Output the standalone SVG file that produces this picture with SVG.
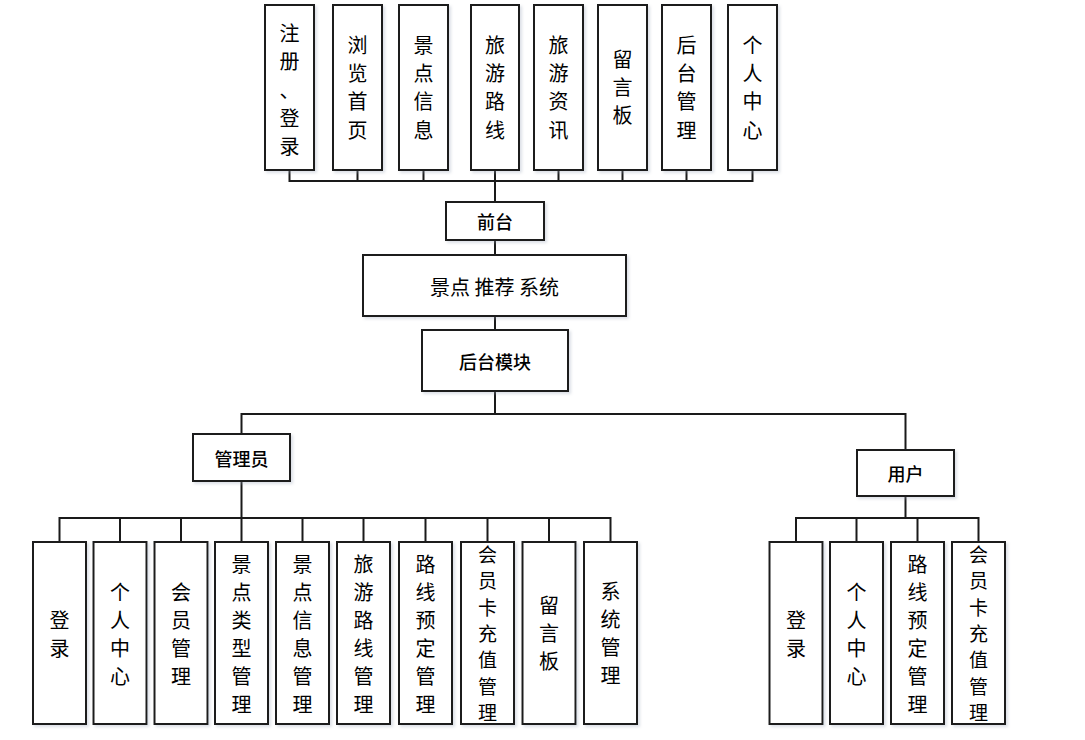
<svg xmlns="http://www.w3.org/2000/svg" width="1085" height="740" viewBox="0 0 1085 740">
<style>
.box{fill:#fff;stroke:#1a1a1a;stroke-width:2;filter:url(#sh)}
.ln{fill:none;stroke:#1a1a1a;stroke-width:2;stroke-linecap:square}
.t{font-family:"Noto Sans CJK SC","Liberation Sans",sans-serif;font-size:20px;fill:#000;text-anchor:middle;dominant-baseline:central}
.t7{font-size:19px}
.tb{font-family:"Noto Sans CJK SC","Liberation Sans",sans-serif;font-size:18px;font-weight:500;fill:#000;text-anchor:middle;dominant-baseline:central}
</style>
<defs>
<filter id="sh" x="-10%" y="-10%" width="130%" height="130%">
<feDropShadow dx="2" dy="2" stdDeviation="1.5" flood-color="#9aa6b8" flood-opacity="0.35"/>
</filter>
</defs>
<rect width="1085" height="740" fill="#fff"/>

<g id="connectors">
<path class="ln" d="M289.5,170V181M357.5,170V181M423.5,170V181M495,170V181M558.5,170V181M622.5,170V181M686.5,170V181M752.5,170V181M289.5,181H752.5M495,181V202"/>
<path class="ln" d="M495,240V255M495,316V330M495,391V414M241.5,414H905.5M241.5,414V434M905.5,414V450"/>
<path class="ln" d="M241.5,481V518M59.5,518H610.5M59.5,518V542M120,518V542M181,518V542M241.5,518V542M302.5,518V542M363.5,518V542M425.5,518V542M487.5,518V542M549,518V542M610.5,518V542"/>
<path class="ln" d="M905.5,496V518M796,518H978.5M796,518V542M856.5,518V542M917.5,518V542M978.5,518V542"/>
</g>

<g id="top1"><rect class="box" x="265" y="5" width="49" height="165"/>
<text class="t"><tspan x="289.5" y="32">注</tspan><tspan x="289.5" y="60.3">册</tspan><tspan x="289.5" y="88.6">、</tspan><tspan x="289.5" y="117">登</tspan><tspan x="289.5" y="145.2">录</tspan></text></g>
<g id="top2"><rect class="box" x="333" y="5" width="49" height="165"/>
<text class="t"><tspan x="357.5" y="43.5">浏</tspan><tspan x="357.5" y="71.8">览</tspan><tspan x="357.5" y="100.2">首</tspan><tspan x="357.5" y="128.5">页</tspan></text></g>
<g id="top3"><rect class="box" x="399" y="5" width="49" height="165"/>
<text class="t"><tspan x="423.5" y="43.5">景</tspan><tspan x="423.5" y="71.8">点</tspan><tspan x="423.5" y="100.2">信</tspan><tspan x="423.5" y="128.5">息</tspan></text></g>
<g id="top4"><rect class="box" x="471" y="5" width="48" height="165"/>
<text class="t"><tspan x="495" y="43.5">旅</tspan><tspan x="495" y="71.8">游</tspan><tspan x="495" y="100.2">路</tspan><tspan x="495" y="128.5">线</tspan></text></g>
<g id="top5"><rect class="box" x="534" y="5" width="49" height="165"/>
<text class="t"><tspan x="558.5" y="43.5">旅</tspan><tspan x="558.5" y="71.8">游</tspan><tspan x="558.5" y="100.2">资</tspan><tspan x="558.5" y="128.5">讯</tspan></text></g>
<g id="top6"><rect class="box" x="598" y="5" width="49" height="165"/>
<text class="t"><tspan x="622.5" y="57.7">留</tspan><tspan x="622.5" y="86">言</tspan><tspan x="622.5" y="114.3">板</tspan></text></g>
<g id="top7"><rect class="box" x="662" y="5" width="49" height="165"/>
<text class="t"><tspan x="686.5" y="43.5">后</tspan><tspan x="686.5" y="71.8">台</tspan><tspan x="686.5" y="100.2">管</tspan><tspan x="686.5" y="128.5">理</tspan></text></g>
<g id="top8"><rect class="box" x="728" y="5" width="49" height="165"/>
<text class="t"><tspan x="752.5" y="43.5">个</tspan><tspan x="752.5" y="71.8">人</tspan><tspan x="752.5" y="100.2">中</tspan><tspan x="752.5" y="128.5">心</tspan></text></g>

<g id="qiantai"><rect class="box" x="446" y="202" width="98" height="38"/>
<text class="tb" x="495" y="221">前台</text></g>
<g id="system"><rect class="box" x="363" y="255" width="263" height="61"/>
<text class="t" x="494.5" y="286" font-size="19">景点 推荐 系统</text></g>
<g id="houtai"><rect class="box" x="422" y="330" width="146" height="61"/>
<text class="tb" x="495" y="361">后台模块</text></g>
<g id="admin"><rect class="box" x="193" y="434" width="97" height="47"/>
<text class="tb" x="241.5" y="458">管理员</text></g>
<g id="user"><rect class="box" x="857" y="450" width="97" height="46"/>
<text class="tb" x="905.5" y="473">用户</text></g>

<g id="a1"><rect class="box" x="33" y="542" width="53" height="182"/>
<text class="t"><tspan x="59.5" y="619">登</tspan><tspan x="59.5" y="647">录</tspan></text></g>
<g id="a2"><rect class="box" x="93.5" y="542" width="53" height="182"/>
<text class="t"><tspan x="120" y="591">个</tspan><tspan x="120" y="619">人</tspan><tspan x="120" y="647">中</tspan><tspan x="120" y="675">心</tspan></text></g>
<g id="a3"><rect class="box" x="154.5" y="542" width="53" height="182"/>
<text class="t"><tspan x="181" y="591">会</tspan><tspan x="181" y="619">员</tspan><tspan x="181" y="647">管</tspan><tspan x="181" y="675">理</tspan></text></g>
<g id="a4"><rect class="box" x="215" y="542" width="53" height="182"/>
<text class="t"><tspan x="241.5" y="563">景</tspan><tspan x="241.5" y="591">点</tspan><tspan x="241.5" y="619">类</tspan><tspan x="241.5" y="647">型</tspan><tspan x="241.5" y="675">管</tspan><tspan x="241.5" y="703">理</tspan></text></g>
<g id="a5"><rect class="box" x="276" y="542" width="53" height="182"/>
<text class="t"><tspan x="302.5" y="563">景</tspan><tspan x="302.5" y="591">点</tspan><tspan x="302.5" y="619">信</tspan><tspan x="302.5" y="647">息</tspan><tspan x="302.5" y="675">管</tspan><tspan x="302.5" y="703">理</tspan></text></g>
<g id="a6"><rect class="box" x="337" y="542" width="53" height="182"/>
<text class="t"><tspan x="363.5" y="563">旅</tspan><tspan x="363.5" y="591">游</tspan><tspan x="363.5" y="619">路</tspan><tspan x="363.5" y="647">线</tspan><tspan x="363.5" y="675">管</tspan><tspan x="363.5" y="703">理</tspan></text></g>
<g id="a7"><rect class="box" x="399" y="542" width="53" height="182"/>
<text class="t"><tspan x="425.5" y="563">路</tspan><tspan x="425.5" y="591">线</tspan><tspan x="425.5" y="619">预</tspan><tspan x="425.5" y="647">定</tspan><tspan x="425.5" y="675">管</tspan><tspan x="425.5" y="703">理</tspan></text></g>
<g id="a8"><rect class="box" x="461" y="542" width="53" height="182"/>
<text class="t t7"><tspan x="487.5" y="553">会</tspan><tspan x="487.5" y="579.3">员</tspan><tspan x="487.5" y="605.6">卡</tspan><tspan x="487.5" y="631.9">充</tspan><tspan x="487.5" y="658.2">值</tspan><tspan x="487.5" y="684.5">管</tspan><tspan x="487.5" y="710.8">理</tspan></text></g>
<g id="a9"><rect class="box" x="522.5" y="542" width="53" height="182"/>
<text class="t"><tspan x="549" y="604">留</tspan><tspan x="549" y="632">言</tspan><tspan x="549" y="660">板</tspan></text></g>
<g id="a10"><rect class="box" x="584" y="542" width="53" height="182"/>
<text class="t"><tspan x="610.5" y="590">系</tspan><tspan x="610.5" y="618">统</tspan><tspan x="610.5" y="646">管</tspan><tspan x="610.5" y="674">理</tspan></text></g>

<g id="u1"><rect class="box" x="769.5" y="542" width="53" height="182"/>
<text class="t"><tspan x="796" y="619">登</tspan><tspan x="796" y="647">录</tspan></text></g>
<g id="u2"><rect class="box" x="830" y="542" width="53" height="182"/>
<text class="t"><tspan x="856.5" y="591">个</tspan><tspan x="856.5" y="619">人</tspan><tspan x="856.5" y="647">中</tspan><tspan x="856.5" y="675">心</tspan></text></g>
<g id="u3"><rect class="box" x="891" y="542" width="53" height="182"/>
<text class="t"><tspan x="917.5" y="563">路</tspan><tspan x="917.5" y="591">线</tspan><tspan x="917.5" y="619">预</tspan><tspan x="917.5" y="647">定</tspan><tspan x="917.5" y="675">管</tspan><tspan x="917.5" y="703">理</tspan></text></g>
<g id="u4"><rect class="box" x="952" y="542" width="53" height="182"/>
<text class="t t7"><tspan x="978.5" y="553">会</tspan><tspan x="978.5" y="579.3">员</tspan><tspan x="978.5" y="605.6">卡</tspan><tspan x="978.5" y="631.9">充</tspan><tspan x="978.5" y="658.2">值</tspan><tspan x="978.5" y="684.5">管</tspan><tspan x="978.5" y="710.8">理</tspan></text></g>
</svg>
